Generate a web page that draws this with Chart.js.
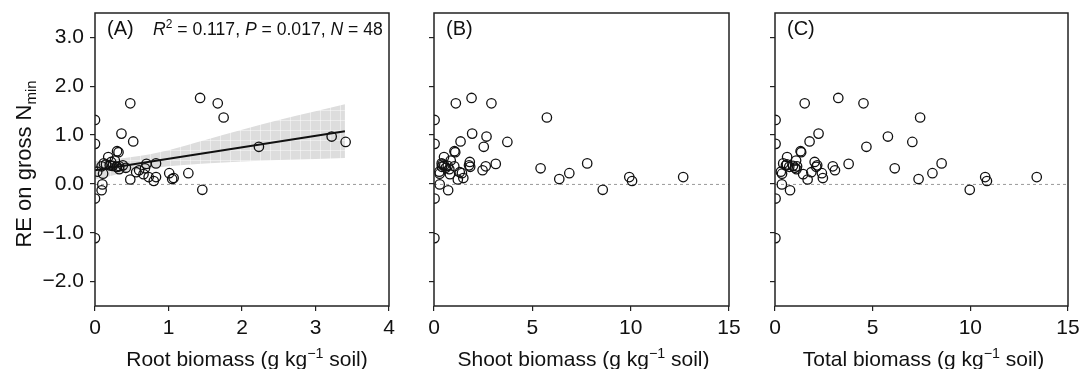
<!DOCTYPE html>
<html>
<head>
<meta charset="utf-8">
<script src="https://cdn.jsdelivr.net/npm/chart.js@4.4.1/dist/chart.umd.min.js"></script>
<style>
  html, body { margin: 0; padding: 0; background: #ffffff; }
  #wrap { position: relative; width: 1080px; height: 369px; overflow: hidden; }
  canvas { position: absolute; top: 0; }
</style>
</head>
<body>
<div id="wrap">
  <canvas id="cA" width="400" height="369" style="left:0px"></canvas>
  <canvas id="cB" width="340" height="369" style="left:400px"></canvas>
  <canvas id="cC" width="340" height="369" style="left:740px"></canvas>
</div>
<script>
// ---------------- data ----------------
const reValues = [1.31, 0.82, -0.30, -1.11, 1.65, 1.76, 1.65, 1.36, 1.03, 0.97,
                  0.87, 0.86, 0.76, 0.67, 0.65, 0.55, -0.12, 0.14, 0.14, 0.06,
                  0.22, 0.42, 0.32, 0.10, 0.41, 0.36, 0.28, 0.12, 0.45, 0.48,
                  -0.13, -0.01, 0.24, 0.09, 0.22, 0.21, 0.42, 0.38, 0.35, 0.36,
                  0.30, 0.25, 0.20, 0.35, 0.38, 0.33, 0.40, 0.37];
const rootBiomass = [0.00, 0.00, 0.00, 0.00, 0.48, 1.43, 1.67, 1.75, 0.36, 3.22,
                     0.52, 3.41, 2.23, 0.30, 0.32, 0.18, 1.46, 0.73, 0.83, 0.80,
                     1.27, 0.83, 0.68, 1.05, 0.70, 0.33, 0.60, 1.07, 0.22, 0.27,
                     0.09, 0.10, 0.56, 0.48, 1.01, 0.11, 0.12, 0.20, 0.30, 0.09,
                     0.33, 0.03, 0.66, 0.29, 0.38, 0.42, 0.15, 0.24];
const shootBiomass = [0.03, 0.03, 0.03, 0.02, 1.11, 1.91, 2.92, 5.74, 1.94, 2.67,
                      1.35, 3.73, 2.53, 1.04, 1.08, 0.51, 8.58, 12.67, 9.93, 10.07,
                      6.88, 7.79, 5.42, 6.37, 3.14, 2.63, 2.47, 1.49, 1.82, 0.85,
                      0.72, 0.29, 1.31, 1.21, 1.42, 0.29, 0.39, 0.52, 0.40, 1.03,
                      0.78, 0.27, 0.81, 1.84, 1.78, 0.60, 0.44, 0.70];
const totalBiomass = [0.03, 0.03, 0.03, 0.02, 1.52, 3.24, 4.53, 7.43, 2.23, 5.78,
                      1.77, 7.03, 4.68, 1.31, 1.34, 0.62, 9.97, 13.40, 10.76, 10.85,
                      8.06, 8.53, 6.13, 7.35, 3.77, 2.96, 3.07, 2.45, 2.03, 1.08,
                      0.77, 0.35, 1.86, 1.67, 2.40, 0.36, 0.42, 0.56, 0.73, 1.13,
                      1.10, 0.30, 1.44, 2.11, 2.16, 1.02, 0.61, 0.92];

// fitted line and confidence band of panel A
const fitLineX = [0, 3.4];
const fitLineY = [0.28, 1.08];
const bandX     = [0, 0.25, 0.5, 0.75, 1.0, 1.5, 2.0, 2.5, 3.0, 3.4];
const bandUpper = [0.47, 0.50, 0.55, 0.61, 0.69, 0.90, 1.11, 1.31, 1.49, 1.63];
const bandLower = [0.09, 0.18, 0.26, 0.32, 0.36, 0.42, 0.46, 0.49, 0.51, 0.53];

const yTickValues = [-2, -1, 0, 1, 2, 3];
const xTicksRoot  = [0, 1, 2, 3, 4];
const xTicksShoot = [0, 5, 10, 15];
const xTicksTotal = [0, 5, 10, 15];

const panelLabels = ['(A)', '(B)', '(C)'];
const statsText = [
  {t: 'R', italic: true}, {t: '2', sup: true}, {t: ' = 0.117, '},
  {t: 'P', italic: true}, {t: ' = 0.017, '},
  {t: 'N', italic: true}, {t: ' = 48'}
];
const xTitles = [
  [{t: 'Root biomass (g kg'}, {t: '\u22121', sup: true}, {t: ' soil)'}],
  [{t: 'Shoot biomass (g kg'}, {t: '\u22121', sup: true}, {t: ' soil)'}],
  [{t: 'Total biomass (g kg'}, {t: '\u22121', sup: true}, {t: ' soil)'}]
];
const yTitle = [{t: 'RE on gross N'}, {t: 'min', sub: true}];

// ---------------- drawing helpers ----------------
const FAMILY = '"Liberation Sans", Arial, Helvetica, sans-serif';
const INK = '#111111';

function segFont(s, size) {
  const sz = (s.sup || s.sub) ? size * 0.68 : size;
  return (s.italic ? 'italic ' : '') + sz + 'px ' + FAMILY;
}
function richWidth(ctx, segs, size) {
  let w = 0;
  segs.forEach(s => { ctx.font = segFont(s, size); w += ctx.measureText(s.t).width; });
  return w;
}
function drawRich(ctx, segs, x, y, size, align) {
  ctx.save();
  ctx.textBaseline = 'alphabetic';
  ctx.textAlign = 'left';
  ctx.fillStyle = INK;
  const w = richWidth(ctx, segs, size);
  let cx = align === 'center' ? x - w / 2 : x;
  segs.forEach(s => {
    ctx.font = segFont(s, size);
    let dy = 0;
    if (s.sup) dy = -size * 0.40;
    if (s.sub) dy = size * 0.22;
    ctx.fillText(s.t, cx, y + dy);
    cx += ctx.measureText(s.t).width;
  });
  ctx.restore();
}

function makePattern() {
  const c = document.createElement('canvas');
  c.width = 10; c.height = 10;
  const g = c.getContext('2d');
  g.fillStyle = '#dddddd';
  g.fillRect(0, 0, 10, 10);
  g.fillStyle = 'rgba(255,255,255,0.45)';
  g.fillRect(0, 0, 10, 1);
  g.fillRect(0, 0, 1, 10);
  return g.createPattern(c, 'repeat');
}

function framePlugin(idx) {
  return {
    id: 'frame' + idx,
    beforeDatasetsDraw(chart) {
      const {ctx, chartArea: a, scales} = chart;
      const y0 = scales.y.getPixelForValue(0);
      ctx.save();
      ctx.strokeStyle = '#9a9a9a';
      ctx.lineWidth = 1;
      ctx.setLineDash([3, 3]);
      ctx.beginPath();
      ctx.moveTo(a.left, y0 + 0.5);
      ctx.lineTo(a.right, y0 + 0.5);
      ctx.stroke();
      ctx.restore();
    },
    afterDraw(chart) {
      const {ctx, chartArea: a} = chart;
      ctx.save();
      ctx.strokeStyle = '#222222';
      ctx.lineWidth = 1.5;
      ctx.strokeRect(a.left, a.top, a.right - a.left, a.bottom - a.top);
      ctx.restore();
      drawRich(ctx, [{t: panelLabels[idx]}], a.left + 12, 35, 20, 'left');
      if (idx === 0) {
        drawRich(ctx, statsText, a.left + 58, 35, 17.6, 'left');
        ctx.save();
        ctx.translate(31, 164);
        ctx.rotate(-Math.PI / 2);
        drawRich(ctx, yTitle, 0, 0, 22, 'center');
        ctx.restore();
      }
      const cxTitle = (a.left + a.right) / 2 + (idx === 0 ? 5 : 2);
      drawRich(ctx, xTitles[idx], cxTitle, 366, 21, 'center');
    }
  };
}

function pts(xs) { return xs.map((x, i) => ({x: x, y: reValues[i]})); }

function makeChart(id, idx, xs, xTicks, xMax, yWidth, padRight) {
  const datasets = [{
    type: 'scatter',
    data: pts(xs),
    pointStyle: 'circle',
    pointRadius: 4.7,
    pointBorderWidth: 1.3,
    pointBorderColor: '#111111',
    pointBackgroundColor: 'rgba(0,0,0,0)',
    order: 1
  }];
  if (idx === 0) {
    const pattern = makePattern();
    datasets.push({
      type: 'line',
      data: bandX.map((x, i) => ({x: x, y: bandUpper[i]})),
      borderWidth: 0, pointRadius: 0, cubicInterpolationMode: 'monotone',
      backgroundColor: pattern, fill: '+1', order: 4
    });
    datasets.push({
      type: 'line',
      data: bandX.map((x, i) => ({x: x, y: bandLower[i]})),
      borderWidth: 0, pointRadius: 0, cubicInterpolationMode: 'monotone',
      fill: false, order: 5
    });
    datasets.push({
      type: 'line',
      data: fitLineX.map((x, i) => ({x: x, y: fitLineY[i]})),
      borderColor: '#111111', borderWidth: 2, pointRadius: 0, fill: false, order: 0
    });
  }
  return new Chart(document.getElementById(id), {
    data: {datasets: datasets},
    options: {
      responsive: false,
      animation: false,
      events: [],
      layout: {padding: {top: 13, right: padRight, left: 0, bottom: 0}},
      plugins: {legend: {display: false}, tooltip: {enabled: false}},
      scales: {
        x: {
          type: 'linear', min: 0, max: xMax,
          afterBuildTicks: s => { s.ticks = xTicks.map(v => ({value: v})); },
          afterFit: s => { s.height = 63; s.paddingLeft = 0; s.paddingRight = 0; },
          border: {display: false},
          grid: {drawOnChartArea: false, drawTicks: true, tickLength: 5, tickColor: '#222222', lineWidth: 1.2},
          ticks: {color: INK, font: {family: FAMILY, size: 21}, padding: 5, maxRotation: 0,
                  callback: v => String(v)}
        },
        y: {
          type: 'linear', min: -2.5, max: 3.5,
          afterBuildTicks: s => { s.ticks = yTickValues.map(v => ({value: v})); },
          afterFit: s => { s.width = yWidth; s.paddingTop = 0; s.paddingBottom = 0; },
          border: {display: false},
          grid: {drawOnChartArea: false, drawTicks: true, tickLength: 5, tickColor: '#222222', lineWidth: 1.2},
          ticks: {display: idx === 0, color: INK, font: {family: FAMILY, size: 21}, padding: 6,
                  callback: v => v.toFixed(1).replace('-', '\u2212')}
        }
      }
    },
    plugins: [framePlugin(idx)]
  });
}

makeChart('cA', 0, rootBiomass, xTicksRoot, 4, 95, 11);
makeChart('cB', 1, shootBiomass, xTicksShoot, 15, 34, 11);
makeChart('cC', 2, totalBiomass, xTicksTotal, 15, 35, 12);
</script>
</body>
</html>
